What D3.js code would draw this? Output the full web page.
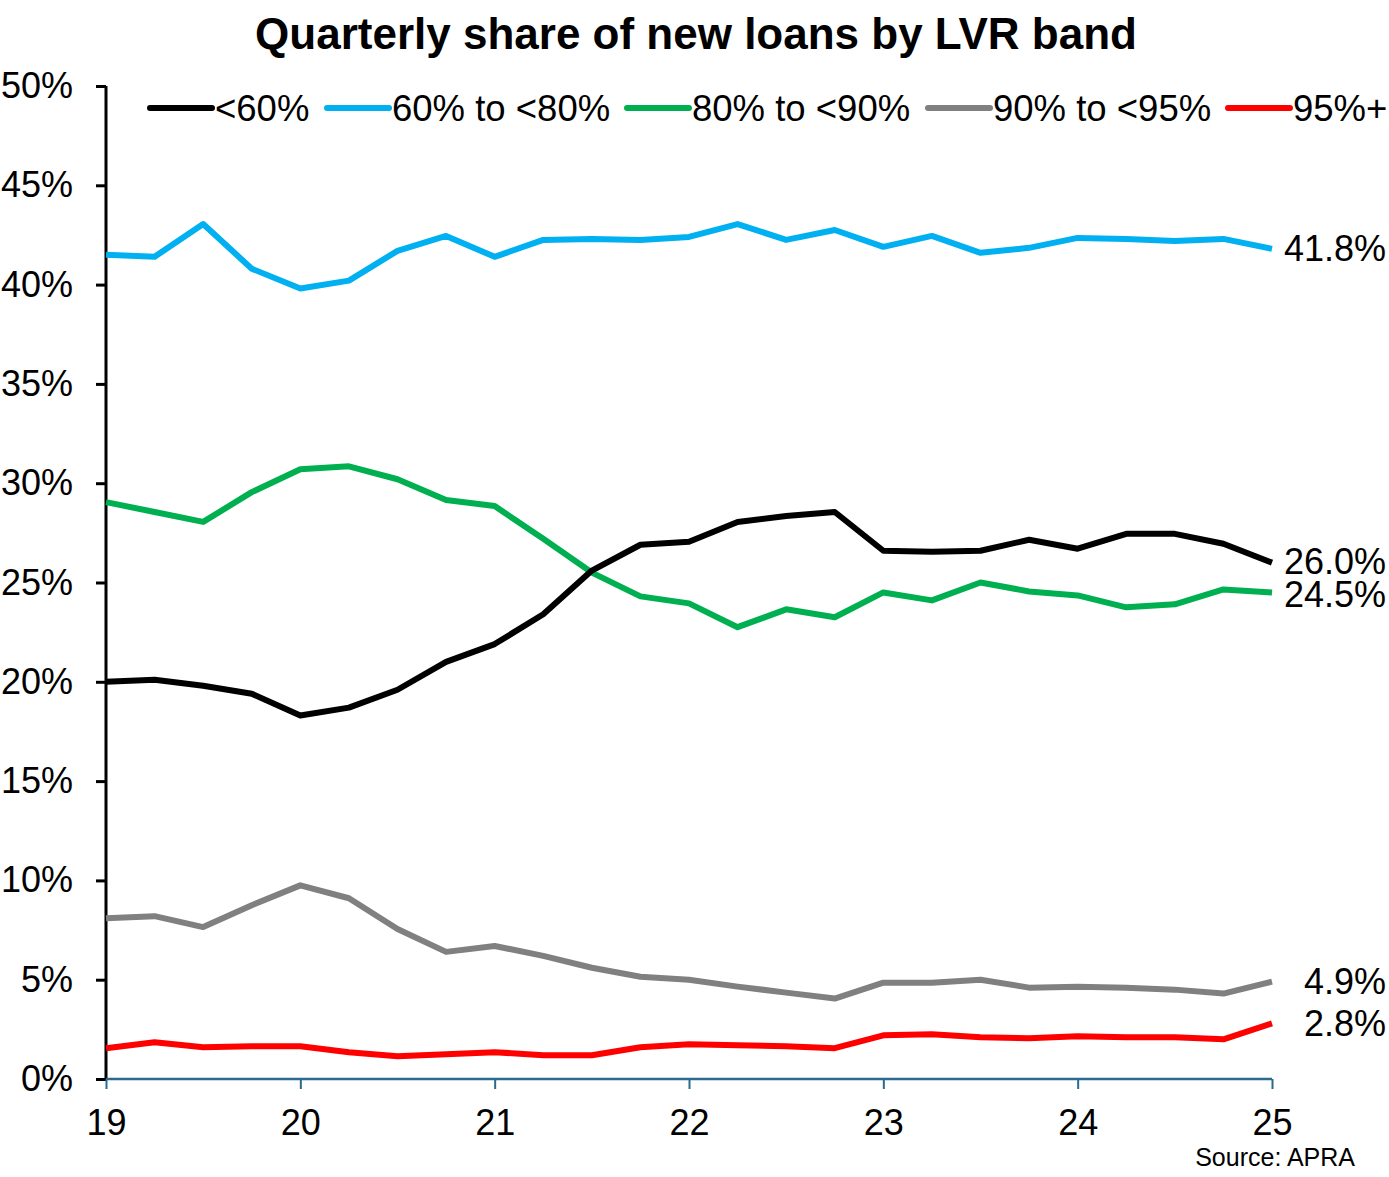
<!DOCTYPE html>
<html>
<head>
<meta charset="utf-8">
<script src="https://cdn.jsdelivr.net/npm/d3@7"></script>
<style>
  html, body { margin: 0; padding: 0; background: #fff; }
  svg { display: block; font-family: "Liberation Sans", Arial, sans-serif; }
</style>
</head>
<body>
<svg id="chart" width="1389" height="1177"></svg>
<script>
// Quarters from 2019 Q1 (index 0) to 2025 Q1 (index 24)
const quarters = d3.range(25);
const yearTicks = [19, 20, 21, 22, 23, 24, 25];
const yTicks = [0, 5, 10, 15, 20, 25, 30, 35, 40, 45, 50];

const seriesNames = ["<60%", "60% to <80%", "80% to <90%", "90% to <95%", "95%+"];
const seriesColors = ["#000000", "#00b0f0", "#00b050", "#808080", "#ff0000"];

const lvrUnder60 = [20.0, 20.1, 19.8, 19.4, 18.3, 18.7, 19.6, 21.0, 21.9, 23.4, 25.6, 26.9, 27.05, 28.05, 28.35, 28.55, 26.6, 26.55, 26.6, 27.15, 26.7, 27.45, 27.45, 26.95, 26.0];
const lvr60to80 = [41.5, 41.4, 43.05, 40.8, 39.8, 40.2, 41.7, 42.45, 41.4, 42.25, 42.3, 42.25, 42.4, 43.05, 42.25, 42.75, 41.9, 42.45, 41.6, 41.85, 42.35, 42.3, 42.2, 42.3, 41.8];
const lvr80to90 = [29.05, 28.55, 28.05, 29.55, 30.7, 30.85, 30.2, 29.15, 28.85, 27.2, 25.5, 24.3, 23.95, 22.75, 23.65, 23.25, 24.5, 24.1, 25.0, 24.55, 24.35, 23.75, 23.9, 24.65, 24.5];
const lvr90to95 = [8.1, 8.2, 7.65, 8.75, 9.75, 9.1, 7.55, 6.4, 6.7, 6.2, 5.6, 5.15, 5.0, 4.65, 4.35, 4.05, 4.85, 4.85, 5.0, 4.6, 4.65, 4.6, 4.5, 4.3, 4.9];
const lvr95plus = [1.55, 1.85, 1.6, 1.65, 1.65, 1.35, 1.15, 1.25, 1.35, 1.2, 1.2, 1.6, 1.75, 1.7, 1.65, 1.55, 2.2, 2.25, 2.1, 2.05, 2.15, 2.1, 2.1, 2.0, 2.8];
const endLabels = ["26.0%", "41.8%", "24.5%", "4.9%", "2.8%"];

const seriesValues = [lvrUnder60, lvr60to80, lvr80to90, lvr90to95, lvr95plus];
const series = seriesNames.map((name, k) => ({
  name, color: seriesColors[k], values: seriesValues[k], label: endLabels[k]
}));

const svg = d3.select("#chart");
const x = d3.scaleLinear().domain([0, 24]).range([106, 1272]);
const y = d3.scaleLinear().domain([0, 50]).range([1079, 86]);
const fontSize = 36;

// Title
svg.append("text")
  .attr("x", 696).attr("y", 49)
  .attr("text-anchor", "middle")
  .attr("font-size", 44).attr("font-weight", "bold")
  .text("Quarterly share of new loans by LVR band");

// Y axis
const yAxis = svg.append("g")
  .attr("transform", `translate(${x(0)},0)`)
  .call(d3.axisLeft(y).tickValues(yTicks).tickFormat(d => d + "%").tickSize(10).tickPadding(23));
yAxis.select(".domain").attr("stroke", "#000").attr("stroke-width", 3).attr("d", `M0,${y(50)}V${y(0)}`);
yAxis.selectAll(".tick line").attr("stroke", "#000").attr("stroke-width", 3);
yAxis.selectAll(".tick text").attr("font-size", fontSize).attr("fill", "#000")
  .attr("font-family", "'Liberation Sans', Arial, sans-serif");

// X axis
const xAxis = svg.append("g")
  .attr("transform", `translate(0,${y(0)})`)
  .call(d3.axisBottom(x).tickValues(yearTicks.map(t => (t - 19) * 4)).tickFormat(d => 19 + d / 4).tickSize(10).tickPadding(20));
xAxis.select(".domain").attr("stroke", "#2a6a8f").attr("stroke-width", 2.5).attr("d", `M${x(0)},0H${x(24)}`);
xAxis.selectAll(".tick line").attr("stroke", "#2a6a8f").attr("stroke-width", 2);
xAxis.selectAll(".tick text").attr("font-size", fontSize).attr("fill", "#000")
  .attr("font-family", "'Liberation Sans', Arial, sans-serif");

// Lines (draw grey/red first, then green, black, blue)
const line = d3.line().x((d, i) => x(quarters[i])).y(d => y(d));
const drawOrder = [4, 3, 2, 0, 1];
svg.append("g").selectAll("path")
  .data(drawOrder.map(k => series[k]))
  .join("path")
  .attr("d", d => line(d.values))
  .attr("fill", "none")
  .attr("stroke", d => d.color)
  .attr("stroke-width", 6)
  .attr("stroke-linejoin", "round");

// End labels (small nudge keeps the two close labels apart as in the reference)
const labelNudge = [-1, 0, 2, 0, 0];
svg.append("g").selectAll("text")
  .data(series)
  .join("text")
  .attr("x", 1386)
  .attr("y", (d, i) => y(d.values[d.values.length - 1]) + labelNudge[i])
  .attr("dy", "0.35em")
  .attr("text-anchor", "end")
  .attr("font-size", fontSize)
  .text(d => d.label);

// Legend
const legendX = [150, 327, 627, 928, 1228];
const legend = svg.append("g").selectAll("g")
  .data(series)
  .join("g")
  .attr("transform", (d, i) => `translate(${legendX[i]},108)`);
legend.append("line")
  .attr("x1", 0).attr("x2", 62).attr("y1", 0).attr("y2", 0)
  .attr("stroke", d => d.color).attr("stroke-width", 6).attr("stroke-linecap", "round");
legend.append("text")
  .attr("x", 65).attr("dy", "0.35em")
  .attr("font-size", 36.5)
  .text(d => d.name);

// Source
svg.append("text")
  .attr("x", 1355).attr("y", 1166)
  .attr("text-anchor", "end")
  .attr("font-size", 25)
  .text("Source: APRA");
</script>
</body>
</html>
